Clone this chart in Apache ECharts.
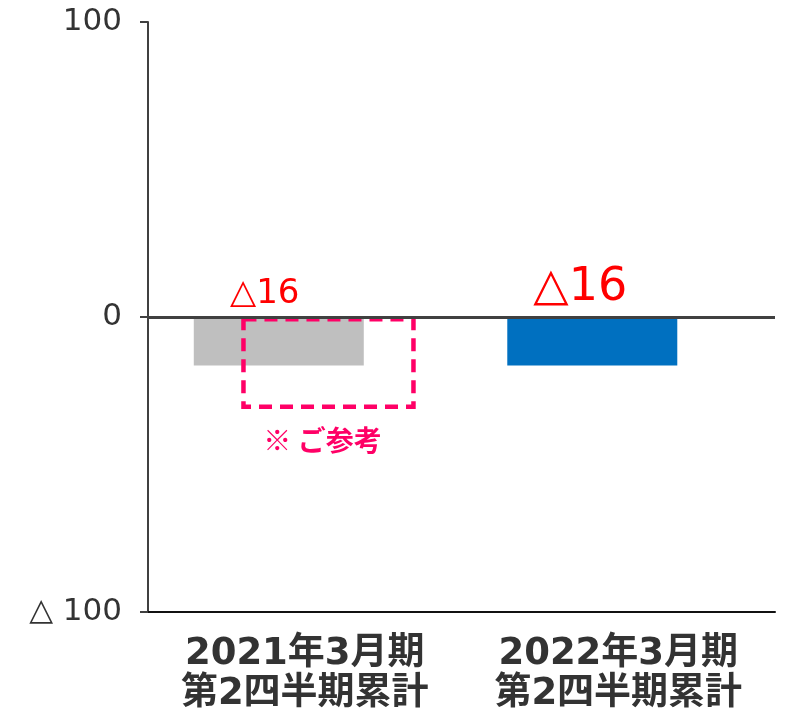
<!DOCTYPE html>
<html>
<head>
<meta charset="utf-8">
<script src="https://cdn.jsdelivr.net/npm/echarts@6/dist/echarts.min.js"></script>
<style>
  html, body { margin: 0; padding: 0; background: #fff; }
  #chart { width: 790px; height: 716px; }
</style>
</head>
<body>
<div id="chart"></div>
<script>
const categories = ['2021年3月期\n第2四半期累計', '2022年3月期\n第2四半期累計'];
const resultValues = [-16.4, -16.4];
const resultLabels = ['△16', '△16'];
const referenceValues = [-31.2, null];
const yTicks = { min: -100, max: 100, interval: 100 };

const FONT = '"DejaVu Sans", "Noto Sans CJK JP", sans-serif';
const CJK = '"Noto Sans CJK JP", sans-serif';

const chart = echarts.init(document.getElementById('chart'));

chart.setOption({
  backgroundColor: '#fff',
  animation: false,
  grid: { left: 148, right: 15, top: 22, bottom: 104 },
  xAxis: {
    type: 'category',
    data: categories,
    axisLine: { onZero: false, lineStyle: { color: '#111', width: 2 } },
    axisTick: { show: false },
    axisLabel: {
      interval: 0,
      color: '#333',
      fontFamily: FONT,
      fontSize: 37,
      fontWeight: 'bold',
      lineHeight: 40,
      margin: 22,
    },
  },
  yAxis: {
    type: 'value',
    min: yTicks.min,
    max: yTicks.max,
    interval: yTicks.interval,
    axisLine: { show: true, lineStyle: { color: '#404040', width: 2 } },
    axisTick: { show: true, length: 8, lineStyle: { color: '#404040', width: 2 } },
    splitLine: { show: false },
    axisLabel: {
      color: '#333',
      fontFamily: FONT,
      fontSize: 31,
      margin: 26,
      formatter: (v) => (v < 0 ? '△ ' + Math.abs(v) : String(v)),
    },
  },
  series: [
    {
      type: 'bar',
      barWidth: 170,
      barGap: '-72.1%',
      data: resultValues.map((v, i) => ({
        value: v,
        itemStyle: { color: i === 0 ? '#bfbfbf' : '#0070c0' },
        label: {
          fontSize: i === 0 ? 34 : 46,
          offset: i === 0 ? [-14, 0] : [-12, 0],
        },
      })),
      label: {
        show: true,
        position: 'top',
        distance: 6,
        color: '#ff0000',
        fontFamily: FONT,
        formatter: (p) => resultLabels[p.dataIndex],
      },
      markLine: {
        silent: true,
        symbol: 'none',
        label: { show: false },
        lineStyle: { color: '#404040', width: 3, type: 'solid' },
        data: [{ yAxis: 0 }],
      },
    },
    {
      type: 'bar',
      barWidth: 174.5,
      data: referenceValues,
      itemStyle: {
        color: 'rgba(0,0,0,0)',
        borderColor: '#ff0066',
        borderWidth: 4.5,
        borderType: [13, 8],
      },
      label: {
        show: true,
        position: 'bottom',
        distance: 17,
        color: '#ff0066',
        fontFamily: CJK,
        fontSize: 28,
        fontWeight: 'bold',
        offset: [-6, 0],
        formatter: '※ ご参考',
      },
    },
  ],
});
</script>
</body>
</html>
